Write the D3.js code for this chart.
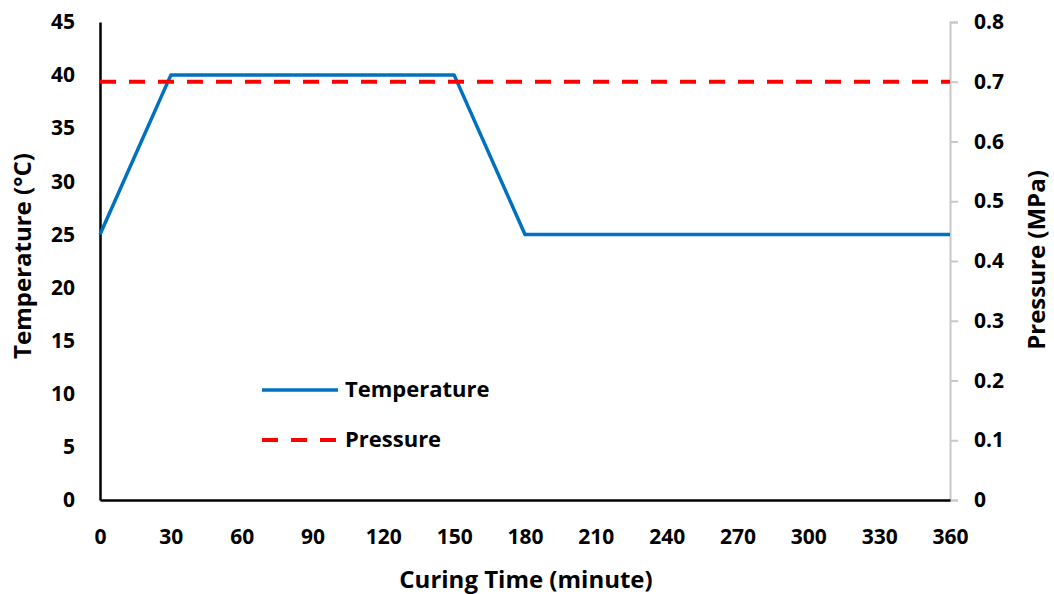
<!DOCTYPE html>
<html lang="en">
<head>
<meta charset="UTF-8">
<title>Curing profile</title>
<script src="https://d3js.org/d3.v7.min.js"></script>
<style>
  body { margin: 0; background: #fff; }
  text { font-family: "Open Sans", "Noto Sans", sans-serif; font-weight: 700; fill: #000; }
</style>
</head>
<body>
<div class="chart"></div>
<script>
const timeMin = [0, 30, 150, 180, 360];
const temperature = [25, 40, 40, 25, 25];
const pressureTime = [0, 360];
const pressure = [0.7, 0.7];
const xTicks = d3.range(0, 361, 30);
const tempTicks = d3.range(0, 46, 5);
const presTicks = [0, 0.1, 0.2, 0.3, 0.4, 0.5, 0.6, 0.7, 0.8];

const width = 1054, height = 594;
const margin = { top: 22, right: 104, bottom: 94, left: 100 };

const svg = d3.select('.chart').append('svg')
  .attr('width', width).attr('height', height);

const x = d3.scaleLinear().domain([0, 360]).range([margin.left, width - margin.right]);
const yT = d3.scaleLinear().domain([0, 45]).range([height - margin.bottom, margin.top]);
const yP = d3.scaleLinear().domain([0, 0.8]).range([height - margin.bottom, margin.top]);

// left axis
const gl = svg.append('g').attr('transform', `translate(${margin.left},0)`)
  .call(d3.axisLeft(yT).tickValues(tempTicks).tickSize(0).tickPadding(25));
gl.select('.domain').attr('stroke', '#000').attr('stroke-width', 2.5);
gl.selectAll('text').style('font-size', '21px');

// right axis
const gr = svg.append('g').attr('transform', `translate(${width - margin.right},0)`)
  .call(d3.axisRight(yP).tickValues(presTicks).tickSize(8).tickSizeOuter(8).tickPadding(16)
    .tickFormat(d => d === 0 ? '0' : d3.format('.1f')(d)));
gr.select('.domain').attr('stroke', '#c8c8c8').attr('stroke-width', 2);
gr.selectAll('.tick line').attr('stroke', '#c8c8c8').attr('stroke-width', 2);
gr.selectAll('text').style('font-size', '21px');

// bottom axis
const gb = svg.append('g').attr('transform', `translate(0,${height - margin.bottom})`)
  .call(d3.axisBottom(x).tickValues(xTicks).tickSize(0).tickPadding(29));
gb.select('.domain').attr('stroke', '#000').attr('stroke-width', 2.5);
gb.selectAll('text').style('font-size', '21px');

// lines
const tLine = d3.line().x((d, i) => x(timeMin[i])).y(d => yT(d));
svg.append('path').datum(temperature)
  .attr('d', tLine).attr('fill', 'none')
  .attr('stroke', '#0070C0').attr('stroke-width', 3.5).attr('stroke-linejoin', 'round');

const pLine = d3.line().x((d, i) => x(pressureTime[i])).y(d => yP(d));
svg.append('path').datum(pressure)
  .attr('d', pLine).attr('fill', 'none')
  .attr('stroke', '#FF0000').attr('stroke-width', 4).attr('stroke-dasharray', '16,13');

// axis titles
svg.append('text').attr('x', 526).attr('y', 588)
  .attr('text-anchor', 'middle').style('font-size', '24px').text('Curing Time (minute)');
svg.append('text').attr('transform', 'translate(31,256) rotate(-90)')
  .attr('text-anchor', 'middle').style('font-size', '24px').text('Temperature (°C)');
svg.append('text').attr('transform', 'translate(1045,260) rotate(-90)')
  .attr('text-anchor', 'middle').style('font-size', '24px').text('Pressure (MPa)');

// legend
const legend = [
  { name: 'Temperature', color: '#0070C0', dash: null, w: 3.5 },
  { name: 'Pressure', color: '#FF0000', dash: '16,13', w: 4 }
];
const lg = svg.append('g').attr('transform', 'translate(262,390)');
legend.forEach((d, i) => {
  const g = lg.append('g').attr('transform', `translate(0,${i * 50})`);
  g.append('line').attr('x1', 0).attr('x2', 76).attr('y1', 0).attr('y2', 0)
    .attr('stroke', d.color).attr('stroke-width', d.w)
    .attr('stroke-dasharray', d.dash);
  g.append('text').attr('x', 83).attr('y', 7).style('font-size', '22px').text(d.name);
});
</script>
</body>
</html>
